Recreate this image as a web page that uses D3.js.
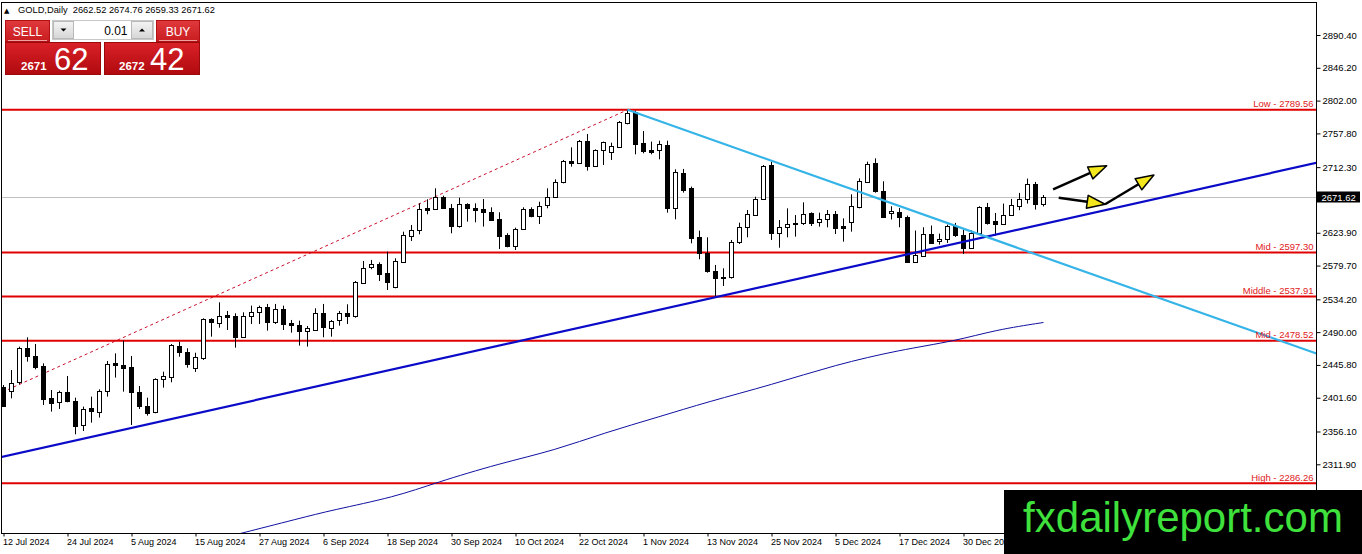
<!DOCTYPE html>
<html>
<head>
<meta charset="utf-8">
<script src="https://cdn.jsdelivr.net/npm/d3@7"></script>
<style>
  body { margin: 0; background: #fff; }
  svg { display: block; font-family: "Liberation Sans", Arial, sans-serif; }
</style>
</head>
<body>
<div id="chart"></div>
<script>

// GOLD daily bars, bar 0 = 12 Jul 2024, last bar = 14 Jan 2025
var open = [2416.5, 2409.8, 2422.4, 2468.2, 2457.8, 2444.8, 2401.3, 2395.4, 2408.9, 2397.2,
  2364.9, 2387.4, 2382.9, 2409.8, 2448.0, 2445.7, 2443.0, 2408.9, 2390.9, 2381.5,
  2426.4, 2429.1, 2471.3, 2463.7, 2441.7, 2454.7, 2507.7, 2503.2, 2513.1, 2511.8,
  2483.9, 2511.8, 2516.7, 2523.5, 2503.2, 2520.8, 2502.8, 2499.7, 2492.0, 2492.9,
  2515.4, 2496.5, 2505.5, 2515.4, 2510.9, 2557.1, 2577.4, 2581.4, 2569.3, 2550.4,
  2585.0, 2620.0, 2627.7, 2657.8, 2655.5, 2671.6, 2657.8, 2632.2, 2662.2, 2657.8,
  2656.0, 2652.4, 2642.5, 2620.9, 2606.6, 2628.6, 2656.0, 2647.0, 2662.2, 2672.6,
  2691.9, 2720.6, 2718.4, 2747.6, 2714.3, 2734.5, 2733.2, 2739.9, 2772.7, 2786.2,
  2745.3, 2735.4, 2734.5, 2742.2, 2658.2, 2704.9, 2684.7, 2618.7, 2596.2, 2572.4,
  2564.8, 2563.4, 2610.6, 2630.8, 2647.8, 2669.4, 2715.2, 2623.2, 2631.2, 2637.5,
  2636.6, 2651.0, 2637.9, 2642.0, 2649.2, 2633.0, 2637.9, 2659.0, 2692.7, 2717.4,
  2680.7, 2649.7, 2652.0, 2645.2, 2584.7, 2593.6, 2622.8, 2613.4, 2615.6, 2632.7,
  2621.4, 2603.5, 2623.7, 2658.3, 2640.3, 2635.8, 2648.4, 2661.0, 2670.0, 2690.2,
  2662.52];
var high = [2418.8, 2439.0, 2470.4, 2483.0, 2474.0, 2448.0, 2412.0, 2411.1, 2430.9, 2401.7,
  2389.6, 2403.1, 2412.9, 2451.1, 2461.4, 2478.5, 2457.8, 2417.4, 2401.7, 2427.8,
  2436.7, 2474.0, 2477.2, 2468.2, 2462.3, 2508.6, 2508.6, 2530.2, 2518.5, 2515.4,
  2516.7, 2525.7, 2525.7, 2528.0, 2528.0, 2525.7, 2506.4, 2505.5, 2498.3, 2522.1,
  2528.0, 2506.4, 2518.5, 2527.5, 2558.9, 2585.9, 2587.3, 2584.1, 2598.5, 2589.5,
  2625.4, 2634.4, 2663.6, 2669.0, 2683.8, 2673.9, 2662.7, 2671.2, 2663.6, 2663.6,
  2669.4, 2658.2, 2651.5, 2623.2, 2630.8, 2658.2, 2658.2, 2665.8, 2683.8, 2695.9,
  2722.0, 2739.0, 2748.9, 2757.0, 2736.3, 2746.7, 2745.3, 2774.5, 2789.6, 2788.4,
  2761.0, 2746.7, 2748.0, 2748.0, 2709.4, 2709.9, 2686.1, 2626.8, 2617.8, 2580.5,
  2576.0, 2614.2, 2637.5, 2654.6, 2672.5, 2715.2, 2719.7, 2641.1, 2656.8, 2647.8,
  2664.9, 2651.4, 2651.0, 2654.6, 2653.2, 2643.3, 2675.7, 2697.2, 2719.7, 2724.2,
  2693.3, 2659.6, 2657.4, 2647.1, 2626.9, 2631.3, 2633.6, 2622.8, 2634.9, 2637.2,
  2628.2, 2627.3, 2659.6, 2664.1, 2650.6, 2663.2, 2669.5, 2677.6, 2696.9, 2692.4,
  2674.76];
var low = [2389.6, 2400.8, 2419.7, 2450.2, 2439.9, 2391.8, 2382.9, 2386.5, 2395.4, 2352.3,
  2356.8, 2368.0, 2374.8, 2403.1, 2428.7, 2409.8, 2364.9, 2386.5, 2377.5, 2380.6,
  2415.2, 2422.4, 2456.9, 2442.1, 2436.3, 2452.5, 2483.9, 2496.0, 2492.9, 2469.1,
  2483.1, 2501.0, 2501.0, 2492.0, 2501.0, 2492.9, 2489.3, 2471.8, 2470.5, 2491.6,
  2483.1, 2483.9, 2498.7, 2501.0, 2509.5, 2555.8, 2574.7, 2558.9, 2546.8, 2549.1,
  2584.1, 2612.8, 2621.8, 2648.8, 2654.6, 2656.0, 2623.2, 2630.8, 2638.9, 2638.0,
  2632.2, 2639.8, 2602.0, 2604.3, 2600.7, 2627.7, 2644.7, 2635.7, 2656.9, 2671.7,
  2690.5, 2713.0, 2717.5, 2707.6, 2713.9, 2715.2, 2722.0, 2739.0, 2770.0, 2729.6,
  2731.0, 2729.6, 2722.9, 2651.0, 2642.0, 2678.0, 2609.7, 2588.2, 2570.1, 2537.8,
  2552.2, 2562.1, 2608.8, 2617.8, 2646.9, 2668.0, 2614.2, 2603.8, 2617.8, 2618.7,
  2634.4, 2633.0, 2632.1, 2631.2, 2622.2, 2611.9, 2625.4, 2656.8, 2691.8, 2677.9,
  2645.2, 2641.7, 2631.3, 2583.3, 2583.3, 2592.3, 2608.9, 2608.0, 2610.2, 2618.3,
  2595.4, 2602.2, 2622.8, 2634.9, 2620.1, 2634.9, 2647.0, 2654.3, 2663.2, 2655.1,
  2659.33];
var close = [2390.5, 2421.0, 2468.2, 2456.9, 2443.5, 2400.8, 2395.0, 2408.9, 2396.3, 2364.0,
  2386.0, 2382.9, 2410.7, 2446.6, 2444.8, 2442.1, 2409.8, 2390.5, 2382.0, 2426.4,
  2430.9, 2472.7, 2463.7, 2447.1, 2456.5, 2507.3, 2503.2, 2512.2, 2510.9, 2483.9,
  2511.8, 2516.7, 2523.5, 2502.8, 2521.2, 2501.0, 2499.7, 2492.0, 2496.0, 2515.4,
  2496.5, 2505.5, 2515.4, 2511.8, 2557.1, 2576.9, 2581.4, 2567.9, 2556.7, 2585.9,
  2620.9, 2627.7, 2656.0, 2655.5, 2671.6, 2656.9, 2633.5, 2662.2, 2656.9, 2654.6,
  2652.4, 2642.0, 2620.0, 2606.1, 2629.0, 2655.5, 2647.0, 2660.4, 2672.6, 2692.8,
  2720.6, 2718.4, 2747.6, 2714.3, 2735.4, 2745.8, 2740.8, 2773.2, 2785.7, 2743.1,
  2734.1, 2733.2, 2743.1, 2657.8, 2706.3, 2682.5, 2617.8, 2597.2, 2571.5, 2563.4,
  2563.0, 2611.0, 2631.2, 2648.7, 2669.4, 2714.3, 2623.2, 2631.2, 2635.3, 2635.7,
  2649.2, 2637.5, 2642.0, 2649.2, 2630.8, 2630.8, 2659.9, 2693.6, 2716.5, 2679.3,
  2646.1, 2652.9, 2645.2, 2584.7, 2593.6, 2622.8, 2611.1, 2615.6, 2633.6, 2620.5,
  2604.4, 2623.7, 2658.3, 2637.2, 2635.8, 2648.4, 2661.9, 2670.0, 2689.7, 2662.8,
  2671.62];

// date labels sit on every 8th bar
var xTickBars = [0, 8, 16, 24, 32, 40, 48, 56, 64, 72, 80, 88, 96, 104, 112, 120];
var xTickLabels = ["12 Jul 2024", "24 Jul 2024", "5 Aug 2024", "15 Aug 2024", "27 Aug 2024",
  "6 Sep 2024", "18 Sep 2024", "30 Sep 2024", "10 Oct 2024", "22 Oct 2024", "1 Nov 2024",
  "13 Nov 2024", "25 Nov 2024", "5 Dec 2024", "17 Dec 2024", "30 Dec 2024"];
var yTickValues = [2890.40, 2846.20, 2802.00, 2757.80, 2712.30, 2623.90, 2579.70,
  2534.20, 2490.00, 2445.80, 2401.60, 2356.10, 2311.90];

// fibonacci levels and the drawn objects
var fibLevels = [2789.56, 2597.30, 2537.91, 2478.52, 2286.26];
var fibNames = ["Low", "Mid", "Middle", "Mid", "High"];
var fibLine = [[-25.4, 2286.26], [78, 2789.56]];
var supportLine = [[16, 2361.0], [89, 2537.0]];
var resistLine = [[78, 2789.56], [96, 2720.9]];

// moving average, read at a few bars
var maBars = [29, 37, 41, 49, 54, 62, 69, 75, 82, 88, 96, 104, 112, 119, 124, 130];
var maValues = [2217, 2239, 2250, 2268, 2287, 2313, 2331, 2354, 2376, 2396, 2419, 2446, 2466, 2478, 2493, 2503];

// hand drawn arrows [bar, price] -> [bar, price]
var arrows = [
  [[131.2, 2682.5], [137.9, 2714.3]],
  [[131.9, 2671.2], [137.7, 2662.3]],
  [[137.7, 2662.3], [143.8, 2701.8]]
];

var symbolText = "GOLD,Daily";
var sellBig = ["2671", "62"];
var buyBig = ["2672", "42"];
var lotSize = "0.01";


var svgWidth = 1362;
var svgHeight = 554;

// plot frame
var frame = { left: 1.5, top: 2.5, right: 1316.5, bottom: 533.5 };

var svg = d3.select("#chart")
  .append("svg")
  .attr("width", svgWidth)
  .attr("height", svgHeight);

var defs = svg.append("defs");
defs.append("clipPath").attr("id", "plotClip")
  .append("rect")
  .attr("x", frame.left + 0.5).attr("y", frame.top + 0.5)
  .attr("width", frame.right - frame.left - 1)
  .attr("height", frame.bottom - frame.top - 1);

var g1 = defs.append("linearGradient").attr("id", "priceRed")
  .attr("x1", 0).attr("y1", 0).attr("x2", 0).attr("y2", 1);
g1.append("stop").attr("offset", "0%").attr("stop-color", "#d92128");
g1.append("stop").attr("offset", "100%").attr("stop-color", "#b00a0e");

var g2 = defs.append("linearGradient").attr("id", "btnRed")
  .attr("x1", 0).attr("y1", 0).attr("x2", 0).attr("y2", 1);
g2.append("stop").attr("offset", "0%").attr("stop-color", "#e0393c");
g2.append("stop").attr("offset", "100%").attr("stop-color", "#c81c20");

var g3 = defs.append("linearGradient").attr("id", "btnGray")
  .attr("x1", 0).attr("y1", 0).attr("x2", 0).attr("y2", 1);
g3.append("stop").attr("offset", "0%").attr("stop-color", "#f4f4f4");
g3.append("stop").attr("offset", "100%").attr("stop-color", "#d6d6d6");


// scales: bar index -> x, price -> y
var x = d3.scaleLinear().domain([0, 130]).range([3.5, 1043.5]);
var y = d3.scaleLinear().domain([2311.9, 2890.4]).range([464.3, 35]);


var plot = svg.append("g").attr("clip-path", "url(#plotClip)");

// current price line
plot.append("line")
  .attr("x1", frame.left).attr("x2", frame.right)
  .attr("y1", Math.round(y(close[close.length - 1])) + 0.5)
  .attr("y2", Math.round(y(close[close.length - 1])) + 0.5)
  .attr("stroke", "#c0c0c0");

// fib levels
plot.selectAll(".fib")
  .data(fibLevels)
  .enter()
  .append("line")
  .attr("x1", frame.left).attr("x2", frame.right)
  .attr("y1", d => y(d)).attr("y2", d => y(d))
  .attr("stroke", "#e00000")
  .attr("stroke-width", 2);

var lineGen = d3.line().x(d => x(d[0])).y(d => y(d[1]));

plot.append("path")
  .attr("d", lineGen(fibLine))
  .attr("fill", "none")
  .attr("stroke", "#c8102e")
  .attr("stroke-width", 1)
  .attr("stroke-dasharray", "3,3");

// extend a line through two points out to the frame
function extendLine(p, q, fromStart) {
  var slope = (q[1] - p[1]) / (q[0] - p[0]);
  var b0 = fromStart ? p[0] : x.invert(frame.left);
  var b1 = x.invert(frame.right);
  return [[b0, p[1] + slope * (b0 - p[0])], [b1, p[1] + slope * (b1 - p[0])]];
}

// moving average
plot.append("path")
  .attr("d", d3.line().curve(d3.curveBasis)
    .x((d, i) => x(maBars[i])).y(d => y(d))(maValues))
  .attr("fill", "none")
  .attr("stroke", "#1010a0")
  .attr("stroke-width", 1);

// candles
var bars = d3.range(open.length);
var candles = plot.selectAll(".candle")
  .data(bars)
  .enter()
  .append("g");

candles.append("line")
  .attr("x1", d => x(d)).attr("x2", d => x(d))
  .attr("y1", d => y(high[d])).attr("y2", d => y(low[d]))
  .attr("stroke", "#000")
  .attr("stroke-width", 1);

candles.append("rect")
  .attr("x", d => x(d) - 2)
  .attr("y", d => Math.round(y(Math.max(open[d], close[d]))) + 0.5)
  .attr("width", 4)
  .attr("height", d => Math.max(1, Math.round(Math.abs(y(open[d]) - y(close[d])))))
  .attr("fill", d => close[d] >= open[d] ? "#fff" : "#000")
  .attr("stroke", "#000")
  .attr("stroke-width", 1);

// trend lines
plot.append("path")
  .attr("d", lineGen(extendLine(supportLine[0], supportLine[1], false)))
  .attr("stroke", "#0a0ac8")
  .attr("stroke-width", 2.2)
  .attr("fill", "none");

plot.append("path")
  .attr("d", lineGen(extendLine(resistLine[0], resistLine[1], true)))
  .attr("stroke", "#35b4e8")
  .attr("stroke-width", 2.2)
  .attr("fill", "none");

// fib labels
plot.selectAll(".fibText")
  .data(fibLevels)
  .enter()
  .append("text")
  .attr("x", frame.right - 3)
  .attr("y", d => y(d) - 2.5)
  .attr("text-anchor", "end")
  .style("font-size", "9.5px")
  .style("fill", "#e02020")
  .text((d, i) => fibNames[i] + " - " + d.toFixed(2));

// arrows
arrows.forEach(function(a) {
  var x0 = x(a[0][0]), y0 = y(a[0][1]);
  var x1 = x(a[1][0]), y1 = y(a[1][1]);
  var ang = Math.atan2(y1 - y0, x1 - x0);
  var len = 18, half = 6.5;
  var bx = x1 - len * Math.cos(ang), by = y1 - len * Math.sin(ang);
  svg.append("line")
    .attr("x1", x0).attr("y1", y0).attr("x2", bx).attr("y2", by)
    .attr("stroke", "#000").attr("stroke-width", 2.5);
  var pts = [[x1, y1],
    [bx + half * Math.sin(ang), by - half * Math.cos(ang)],
    [bx - half * Math.sin(ang), by + half * Math.cos(ang)]];
  svg.append("polygon")
    .attr("points", pts.map(p => p.join(",")).join(" "))
    .attr("fill", "#f4e81c")
    .attr("stroke", "#000")
    .attr("stroke-width", 1.5)
    .attr("stroke-linejoin", "round");
});


// frame
svg.append("rect")
  .attr("x", frame.left).attr("y", frame.top)
  .attr("width", frame.right - frame.left)
  .attr("height", frame.bottom - frame.top)
  .attr("fill", "none")
  .attr("stroke", "#000");

// right price axis
var yAxis = d3.axisRight(y)
  .tickValues(yTickValues)
  .tickFormat(d3.format(".2f"))
  .tickSize(4)
  .tickPadding(2);

var yAxisG = svg.append("g")
  .attr("transform", `translate(${frame.right}, 0)`)
  .call(yAxis);
yAxisG.select(".domain").remove();
yAxisG.selectAll("text").style("font-size", "9.5px").style("font-family", "Liberation Sans, Arial");

// bottom date axis
var xAxis = d3.axisBottom(x)
  .tickValues(xTickBars)
  .tickFormat((d, i) => xTickLabels[i])
  .tickSize(3);

var xAxisG = svg.append("g")
  .attr("transform", `translate(0, ${frame.bottom})`)
  .call(xAxis);
xAxisG.select(".domain").remove();
xAxisG.selectAll("text")
  .attr("text-anchor", "start")
  .attr("x", -1)
  .attr("y", 5)
  .style("font-size", "9px")
  .style("font-family", "Liberation Sans, Arial");

// current price tag
var lastY = Math.round(y(close[close.length - 1]));
svg.append("rect")
  .attr("x", frame.right + 0.5).attr("y", lastY - 5.5)
  .attr("width", 43).attr("height", 11)
  .attr("fill", "#000");
svg.append("text")
  .attr("x", frame.right + 5).attr("y", lastY + 3.5)
  .style("font-size", "9.5px")
  .style("fill", "#fff")
  .text(close[close.length - 1].toFixed(2));


// header
svg.append("text")
  .attr("x", 4).attr("y", 12.5)
  .style("font-family", "DejaVu Sans")
  .style("font-size", "7px")
  .text("\u25B2");
svg.append("text")
  .attr("x", 18).attr("y", 13)
  .style("font-size", "9.3px")
  .attr("xml:space", "preserve")
  .text(symbolText + "  " + [open, high, low, close].map(s => s[s.length - 1].toFixed(2)).join(" "));


// one click trading panel
var panel = svg.append("g");

panel.append("rect").attr("x", 5.5).attr("y", 20.5).attr("width", 44).attr("height", 21)
  .attr("fill", "url(#btnRed)").attr("stroke", "#b01014");
panel.append("rect").attr("x", 156.5).attr("y", 20.5).attr("width", 43).attr("height", 21)
  .attr("fill", "url(#btnRed)").attr("stroke", "#b01014");
panel.append("line").attr("x1", 8).attr("x2", 47).attr("y1", 40.5).attr("y2", 40.5)
  .attr("stroke", "#f0a0a0");
panel.append("line").attr("x1", 159).attr("x2", 197).attr("y1", 40.5).attr("y2", 40.5)
  .attr("stroke", "#f0a0a0");

panel.append("text").attr("x", 27.5).attr("y", 35.5).attr("text-anchor", "middle")
  .style("font-size", "12px").style("fill", "#fff").text("SELL");
panel.append("text").attr("x", 178).attr("y", 35.5).attr("text-anchor", "middle")
  .style("font-size", "12px").style("fill", "#fff").text("BUY");

// lot box
panel.append("rect").attr("x", 52.5).attr("y", 20.5).attr("width", 101).attr("height", 19)
  .attr("fill", "#fff").attr("stroke", "#c8c8c8");
panel.append("rect").attr("x", 53.5).attr("y", 21.5).attr("width", 20).attr("height", 17)
  .attr("fill", "url(#btnGray)").attr("stroke", "#b8b8b8");
panel.append("rect").attr("x", 131.5).attr("y", 21.5).attr("width", 21).attr("height", 17)
  .attr("fill", "url(#btnGray)").attr("stroke", "#b8b8b8");
panel.append("path").attr("d", "M60.5,28.5 L66.5,28.5 L63.5,31.5 Z").attr("fill", "#000");
panel.append("path").attr("d", "M139,31.5 L145,31.5 L142,28.5 Z").attr("fill", "#000");
panel.append("text").attr("x", 127.5).attr("y", 34.5).attr("text-anchor", "end")
  .style("font-size", "12px").style("fill", "#000").text(lotSize);

// big prices
panel.append("rect").attr("x", 5.5).attr("y", 42.5).attr("width", 95).attr("height", 32)
  .attr("fill", "url(#priceRed)").attr("stroke", "#9a0a0a");
panel.append("rect").attr("x", 104.5).attr("y", 42.5).attr("width", 95).attr("height", 32)
  .attr("fill", "url(#priceRed)").attr("stroke", "#9a0a0a");

panel.append("text").attr("x", 21).attr("y", 70)
  .style("font-size", "11.5px").style("font-weight", "bold").style("fill", "#fff").text(sellBig[0]);
panel.append("text").attr("x", 54).attr("y", 70)
  .style("font-size", "31px").style("fill", "#fff").text(sellBig[1]);
panel.append("text").attr("x", 119).attr("y", 70)
  .style("font-size", "11.5px").style("font-weight", "bold").style("fill", "#fff").text(buyBig[0]);
panel.append("text").attr("x", 150).attr("y", 70)
  .style("font-size", "31px").style("fill", "#fff").text(buyBig[1]);


// watermark
svg.append("rect")
  .attr("x", 1004).attr("y", 490)
  .attr("width", svgWidth - 1004).attr("height", svgHeight - 490)
  .attr("fill", "#000");
svg.append("text")
  .attr("x", 1183).attr("y", 532)
  .attr("text-anchor", "middle")
  .style("font-size", "42px")
  .style("fill", "#3fe13c")
  .text("fxdailyreport.com");

</script>
</body>
</html>
